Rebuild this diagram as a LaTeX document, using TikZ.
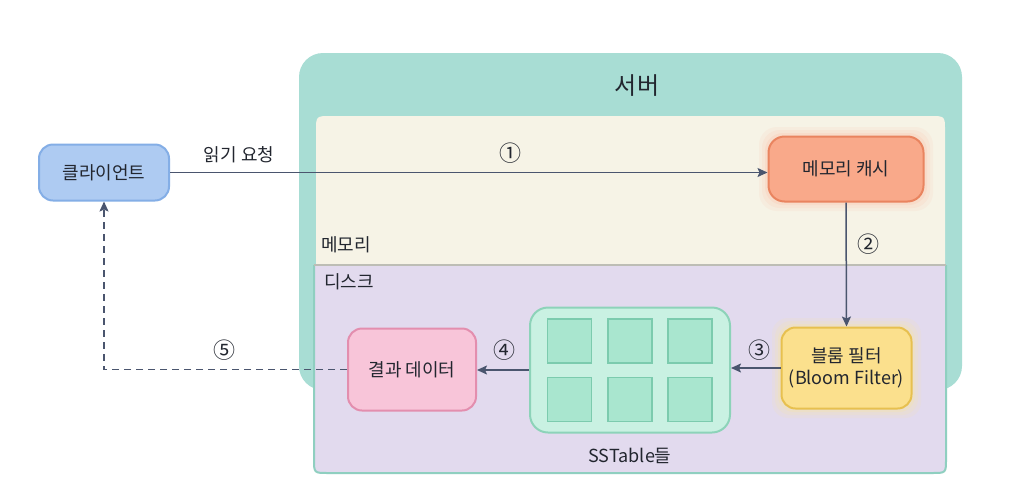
\documentclass[tikz,border=0pt]{standalone}
\usepackage{fontspec}
\setmainfont{Noto Sans CJK KR}
\usetikzlibrary{arrows.meta}
\definecolor{servfill}{HTML}{A8DDD4}
\definecolor{memfill}{HTML}{F6F3E6}
\definecolor{diskfill}{HTML}{E2DAEE}
\definecolor{diskborder}{HTML}{8FCFC0}
\definecolor{sepline}{HTML}{BDBDB5}
\definecolor{clifill}{HTML}{AECBF2}
\definecolor{cliborder}{HTML}{84AEE6}
\definecolor{cachefill}{HTML}{F9A98A}
\definecolor{cacheborder}{HTML}{E9845F}
\definecolor{cacheglow}{HTML}{FBC9B2}
\definecolor{bloomfill}{HTML}{FBE08D}
\definecolor{bloomborder}{HTML}{E7C04F}
\definecolor{bloomglow}{HTML}{F8E6A8}
\definecolor{ssfill}{HTML}{C9F1E2}
\definecolor{ssborder}{HTML}{8DD3B9}
\definecolor{sqfill}{HTML}{A9E6CF}
\definecolor{sqborder}{HTML}{7CCBAE}
\definecolor{resfill}{HTML}{F8C5D9}
\definecolor{resborder}{HTML}{E38EAE}
\definecolor{arrowc}{HTML}{4A556E}
\definecolor{txt}{HTML}{22262F}
\tikzset{
  box/.style={rounded corners=14pt, line width=2pt, align=center, text=txt, font=\fontsize{18}{22}\selectfont, inner sep=0pt},
  sq/.style={fill=sqfill, draw=sqborder, line width=1.5pt, minimum width=44pt, minimum height=44pt, inner sep=0pt},
  flow/.style={draw=arrowc, line width=1.5pt, -{Stealth[length=10pt,width=9pt,inset=2pt]}},
  num/.style={text=txt, font=\fontsize{22}{22}\selectfont, inner sep=0pt},
  lbl/.style={text=txt, font=\fontsize{18}{18}\selectfont, inner sep=0pt},
}
\begin{document}
\begin{tikzpicture}[x=1pt,y=-1pt]
\useasboundingbox (0,0) rectangle (1024,485);
\fill[white] (0,0) rectangle (1024,485);
% server
\fill[servfill, rounded corners=24pt] (299,53) rectangle (962,390);
% memory
\fill[memfill] (316,265) -- (316,131) .. controls (316,116) .. (331,116) -- (930,116) .. controls (945,116) .. (945,131) -- (945,265) -- cycle;
% disk
\fill[diskfill] (314,265) -- (314,459) .. controls (314,473) .. (328,473) -- (932,473) .. controls (946,473) .. (946,459) -- (946,265) -- cycle;
\draw[diskborder, line width=2pt] (314,265) -- (314,459) .. controls (314,473) .. (328,473) -- (932,473) .. controls (946,473) .. (946,459) -- (946,265);
\draw[sepline, line width=1.5pt] (314,265) -- (946,265);
% container labels
\node[text=txt, font=\fontsize{24}{24}\selectfont, inner sep=0pt] (servlbl) at (637,86) {서버};
\node[lbl] (memlbl) at (346,245) {메모리};
\node[lbl] (disklbl) at (349,282) {디스크};
% glows
\foreach \g/\o in {9/0.15,6/0.2,3/0.3}{
  \fill[cacheglow, opacity=\o, rounded corners=18pt] (768-\g,136-\g) rectangle (924+\g,202+\g);
  \fill[bloomglow, opacity=\o, rounded corners=16pt] (781-\g,327-\g) rectangle (912+\g,409+\g);
}
% nodes
\node[box, fill=clifill, draw=cliborder, minimum width=130pt, minimum height=56pt] (client) at (104,172.5) {클라이언트};
\node[box, fill=cachefill, draw=cacheborder, minimum width=155pt, minimum height=65pt, rounded corners=16pt] (cache) at (846,169) {메모리 캐시};
\node[box, fill=bloomfill, draw=bloomborder, minimum width=130pt, minimum height=81pt] (bloom) at (846.5,368) {블룸 필터\\(Bloom Filter)};
\node[box, fill=ssfill, draw=ssborder, minimum width=200pt, minimum height=125pt, rounded corners=18pt] (sstable) at (630,370) {};
\node[box, fill=resfill, draw=resborder, minimum width=128pt, minimum height=82pt] (result) at (412,369.5) {결과 데이터};
\node[sq] (s1) at (569.5,341) {};
\node[sq] (s2) at (630,341) {};
\node[sq] (s3) at (690,341) {};
\node[sq] (s4) at (569.5,399.5) {};
\node[sq] (s5) at (630,399.5) {};
\node[sq] (s6) at (690,399.5) {};
\node[lbl] (sslbl) at (630,456) {SSTable들};
% connectors
\draw[flow] (client.east) -- (client.east -| cache.west);
\draw[flow] (cache.south) -- (bloom.north);
\draw[flow] (bloom.west) -- (bloom.west -| sstable.east);
\draw[flow] (sstable.west) -- (sstable.west -| result.east);
\draw[flow, dash pattern=on 7pt off 5pt] (result.west) -| (client.south);
% labels
\node[lbl] (req) at (239,155) {읽기 요청};
\node[num] (n1) at (510,153) {①};
\node[num] (n2) at (868,244) {②};
\node[num] (n3) at (759,350) {③};
\node[num] (n4) at (504,350) {④};
\node[num] (n5) at (224,350) {⑤};
\end{tikzpicture}
\end{document}
